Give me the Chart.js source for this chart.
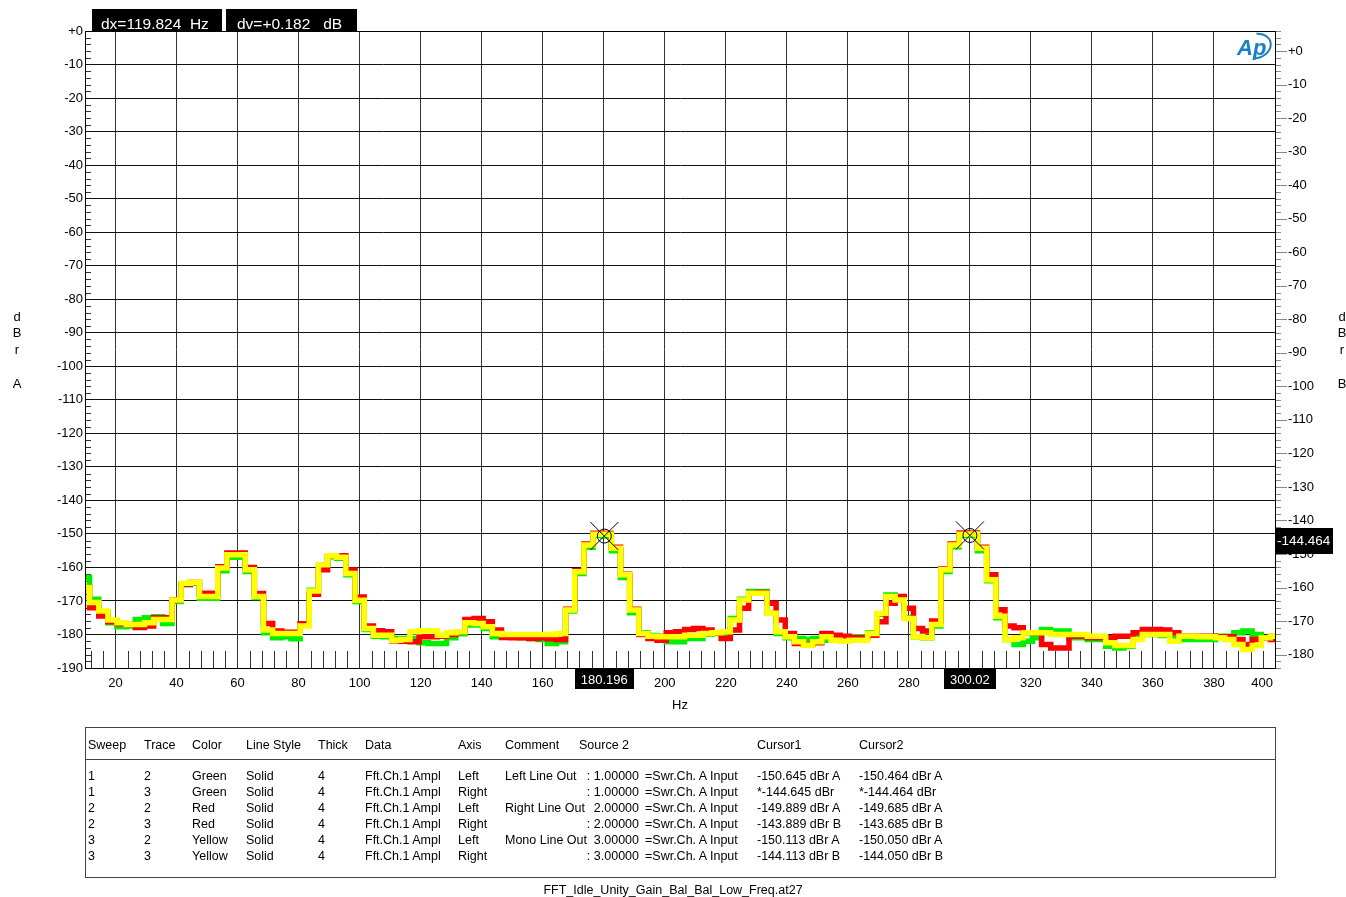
<!DOCTYPE html>
<html>
<head>
<meta charset="utf-8">
<script src="https://cdn.jsdelivr.net/npm/chart.js@4.4.1/dist/chart.umd.min.js"></script>
<style>
  body { margin: 0; background: #fff; }
  #wrap { position: relative; width: 1346px; height: 897px; overflow: hidden; font-family: "Liberation Sans", Arial, sans-serif; }
  #chart { position: absolute; left: 0; top: 0; }
  #legendBox { position: absolute; left: 85px; top: 727px; width: 1189px; height: 149px; border: 1px solid #444; }
  #legendRule { position: absolute; left: 85px; top: 759px; width: 1190px; height: 1px; background: #444; }
  .cell { position: absolute; font-size: 12.5px; line-height: 16px; color: #000; white-space: pre; }
  .right { text-align: right; }
  #footer { position: absolute; left: 0; width: 1346px; top: 882px; text-align: center; font-size: 12.5px; line-height: 16px; }
</style>
</head>
<body>
<div id="wrap">
  <canvas id="chart" width="1346" height="897"></canvas>
  <div id="legendBox"></div>
  <div id="legendRule"></div>
  <div id="legendCells"></div>
  <div id="footer">FFT_Idle_Unity_Gain_Bal_Bal_Low_Freq.at27</div>
</div>
<script>
// Datos del espectro (dBr A)
const freqHz = [
  10, 13, 16, 19, 22, 25, 28, 31, 34, 37,
  40, 43, 46, 49, 52, 55, 58, 61, 64, 67,
  70, 73, 76, 79, 82, 85, 88, 91, 94, 97,
  100, 103, 106, 109, 112, 115, 118, 121, 124, 127,
  130, 133, 136, 139, 142, 145, 148, 151, 154, 157,
  160, 163, 166, 169, 172, 175, 178, 181, 184, 187,
  190, 193, 196, 199, 202, 205, 208, 211, 214, 217,
  220, 223, 226, 229, 232, 235, 238, 241, 244, 247,
  250, 253, 256, 259, 262, 265, 268, 271, 274, 277,
  280, 283, 286, 289, 292, 295, 298, 301, 304, 307,
  310, 313, 316, 319, 322, 325, 328, 331, 334, 337,
  340, 343, 346, 349, 352, 355, 358, 361, 364, 367,
  370, 373, 376, 379, 382, 385, 388, 391, 394, 397,
  400
];

const yellowDb = [
  -166, -170.5, -173, -175.7, -176.5, -177, -177, -176.5, -175.5, -175.5,
  -169.7, -164.7, -164.5, -168.7, -168.7, -160.2, -156.2, -156.2, -160.7, -168.7,
  -178.7, -179.7, -179.7, -179.7, -177.5, -167, -159.2, -156.5, -157, -161.8,
  -169.8, -178.2, -180.2, -180.2, -181.7, -181.5, -179.2, -178.9, -178.9, -180.2,
  -179.5, -179.2, -176.5, -176.7, -177.7, -179.7, -180, -180, -180, -180,
  -180, -180, -179.7, -172.7, -161.3, -153.3, -150.1, -150.1, -154.3, -162.2,
  -172.7, -179.7, -180.5, -180.7, -180.7, -180.7, -180.2, -180.2, -179.7, -179.5,
  -179.2, -175.7, -169.7, -167.7, -167.7, -173.7, -179.2, -180.7, -182.2, -183.2,
  -182.2, -180.7, -181.7, -182, -181.7, -181.7, -179.7, -173.7, -168.7, -169.7,
  -175.2, -180.7, -180.9, -177, -160.7, -153.3, -150.1, -150.0, -154.3, -163.7,
  -174.6, -181.5, -181, -179.5, -179.5, -179.5, -180, -180, -180, -180,
  -180.5, -180.5, -182.5, -183.3, -183.3, -181.5, -180, -180, -180, -182,
  -180.5, -180.5, -180.7, -180.7, -181, -181.5, -183, -184.5, -183.3, -181,
  -180.5
];

const redDb = [
  -166, -172, -174.5, -176.2, -176.8, -177, -177.9, -177.5, -175, -175,
  -169.7, -165, -164.5, -167.7, -167.7, -159.8, -155.7, -155.7, -160, -167.8,
  -176.7, -179, -179.3, -179.3, -176.8, -168, -160.7, -156.5, -156.5, -160.8,
  -168.8, -177.5, -178.9, -179.2, -181.9, -182, -182.2, -180.7, -180.7, -180.5,
  -180, -179.2, -175.5, -175.2, -176.2, -178.7, -180.9, -181, -181, -181.2,
  -181, -181.3, -181.5, -172.5, -161, -153, -149.8, -149.9, -154, -162,
  -172.5, -180, -181.2, -181.7, -179.5, -179.2, -178.5, -178.2, -178.7, -179.5,
  -181.2, -178.7, -172.2, -167.7, -167.5, -170.7, -175.7, -179.7, -182.7, -183,
  -182.5, -179.7, -180.2, -180.5, -181, -181, -180.2, -176.2, -170.7, -168.7,
  -172.2, -178.2, -179, -176, -160.5, -153, -149.7, -149.7, -154, -162.2,
  -172.6, -177.5, -178, -179.5, -179.5, -183, -184, -184, -180.5, -180.5,
  -181, -181, -181, -180.5, -180.5, -179.5, -178.5, -178.5, -178.7, -179.5,
  -180.5, -180.5, -180.5, -180.5, -180.7, -180.7, -181.5, -183, -181.5, -181,
  -181.5
];

const greenDb = [
  -163, -169.5, -173.5, -176.5, -177.7, -177.5, -175.5, -175, -174.7, -176.7,
  -170.2, -165.2, -164.7, -169.2, -169.2, -161, -157, -157, -161.2, -169,
  -179.5, -181, -180.7, -181.3, -176.8, -166.8, -159.5, -156.8, -157.3, -162.2,
  -170.2, -178.5, -180.5, -180.7, -181.2, -181.2, -181.2, -182.5, -182.7, -182.7,
  -181, -179.8, -177.2, -177.2, -178.2, -180.7, -180.5, -180.8, -181, -181.2,
  -181.5, -182.7, -182.2, -173, -161.8, -154, -150.4, -150.6, -155, -163,
  -173.5, -179.5, -180.3, -180.5, -182.2, -182.2, -181.2, -181.2, -179.9, -179.7,
  -179.7, -175.2, -169.5, -167.2, -167.2, -173.7, -179.7, -181, -181.2, -181.5,
  -181.2, -181.7, -181.2, -181.5, -180.7, -180.7, -179.5, -174, -168.2, -169.2,
  -175, -180.7, -181, -177.5, -161.2, -153.8, -150.5, -150.4, -155, -164,
  -175, -181.5, -183, -182, -181, -178.5, -179, -179, -181, -181,
  -181.5, -181.5, -183.5, -184, -183.5, -181, -180, -180, -180.3, -181,
  -181.5, -181.5, -181.5, -181.5, -180.5, -180.5, -179.5, -179, -180, -181,
  -180.5
];

// Marcas de los ejes
const hzTicks = [20, 40, 60, 80, 100, 120, 140, 160, 180, 200, 220, 240, 260, 280, 300, 320, 340, 360, 380, 400];
const dbTicksA = [0, -10, -20, -30, -40, -50, -60, -70, -80, -90, -100, -110, -120, -130, -140, -150, -160, -170, -180, -190];
const dbTicksB = [0, -10, -20, -30, -40, -50, -60, -70, -80, -90, -100, -110, -120, -130, -140, -150, -160, -170, -180];

// Cursores
const cursorHz = [180.196, 300.02];
const cursorDb = [-150.645, -150.464];
const cursorHzLabels = ['180.196', '300.02'];
const cursorRightLabel = '-144.464';
const cursorRightDb = -144.464;

// Tabla de trazas
const legendHeader = ['Sweep', 'Trace', 'Color', 'Line Style', 'Thick', 'Data', 'Axis', 'Comment', 'Source 2', 'Cursor1', 'Cursor2'];
const sweepCol = ['1', '1', '2', '2', '3', '3'];
const traceCol = ['2', '3', '2', '3', '2', '3'];
const colorCol = ['Green', 'Green', 'Red', 'Red', 'Yellow', 'Yellow'];
const styleCol = ['Solid', 'Solid', 'Solid', 'Solid', 'Solid', 'Solid'];
const thickCol = ['4', '4', '4', '4', '4', '4'];
const dataCol = ['Fft.Ch.1 Ampl', 'Fft.Ch.1 Ampl', 'Fft.Ch.1 Ampl', 'Fft.Ch.1 Ampl', 'Fft.Ch.1 Ampl', 'Fft.Ch.1 Ampl'];
const axisCol = ['Left', 'Right', 'Left', 'Right', 'Left', 'Right'];
const commentCol = ['Left Line Out', '', 'Right Line Out', '', 'Mono Line Out', ''];
const sourceCol = [': 1.00000', ': 1.00000', '2.00000', ': 2.00000', '3.00000', ': 3.00000'];
const inputCol = ['=Swr.Ch. A Input', '=Swr.Ch. A Input', '=Swr.Ch. A Input', '=Swr.Ch. A Input', '=Swr.Ch. A Input', '=Swr.Ch. A Input'];
const cursor1Col = ['-150.645 dBr A', '*-144.645 dBr', '-149.889 dBr A', '-143.889 dBr B', '-150.113 dBr A', '-144.113 dBr B'];
const cursor2Col = ['-150.464 dBr A', '*-144.464 dBr', '-149.685 dBr A', '-143.685 dBr B', '-150.050 dBr A', '-144.050 dBr B'];

const FONT = '"Liberation Sans", Arial, sans-serif';

function buildLegend() {
    const host = document.getElementById('legendCells');
    const lefts = [88, 144, 192, 246, 318, 365, 458, 505];
    function put(text, x, yc, alignRight) {
        const d = document.createElement('div');
        d.className = 'cell' + (alignRight ? ' right' : '');
        d.textContent = text;
        d.style.top = (yc - 7) + 'px';
        if (alignRight) { d.style.left = (x - 200) + 'px'; d.style.width = '200px'; }
        else d.style.left = x + 'px';
        host.appendChild(d);
    }
    legendHeader.slice(0, 8).forEach((h, i) => put(h, lefts[i], 744));
    put(legendHeader[8], 579, 744);
    put(legendHeader[9], 757, 744);
    put(legendHeader[10], 859, 744);
    const cols = [sweepCol, traceCol, colorCol, styleCol, thickCol, dataCol, axisCol, commentCol];
    for (let r = 0; r < sweepCol.length; r++) {
        const yc = 775 + r * 16;
        cols.forEach((c, i) => put(c[r], lefts[i], yc));
        put(sourceCol[r], 639, yc, true);
        put(inputCol[r], 645, yc);
        put(cursor1Col[r], 757, yc);
        put(cursor2Col[r], 859, yc);
    }
}

const dbLabel = v => (v === 0 ? '+0' : String(v));

const apOverlay = {
    id: 'apOverlay',
    beforeDatasetsDraw(chart) {
        const { ctx, chartArea: a, scales } = chart;
        const x = scales.x, y = scales.y, y2 = scales.y2;
        ctx.save();
        ctx.lineWidth = 1;
        // marcas menores dentro del gráfico
        ctx.strokeStyle = '#333';
        ctx.beginPath();
        for (let v = -188; v < 0; v += 2) {
            if (v % 10 === 0) continue;
            const py = Math.round(y.getPixelForValue(v)) + 0.5;
            ctx.moveTo(a.left, py); ctx.lineTo(a.left + 6, py);
        }
        for (let v = 12; v < 400; v += 4) {
            if (v % 20 === 0) continue;
            const px = Math.round(x.getPixelForValue(v)) + 0.5;
            ctx.moveTo(px, a.bottom); ctx.lineTo(px, a.bottom - 17);
        }
        ctx.stroke();
        // marcas del eje derecho
        ctx.strokeStyle = '#888';
        ctx.beginPath();
        for (let v = -184; v <= 6; v += 2) {
            const py = Math.round(y2.getPixelForValue(v)) + 0.5;
            const len = v % 10 === 0 ? 12 : 6;
            ctx.moveTo(a.right, py); ctx.lineTo(a.right + len, py);
        }
        ctx.stroke();
        ctx.restore();
    },
    afterDraw(chart) {
        const { ctx, chartArea: a, scales } = chart;
        const x = scales.x, y = scales.y, y2 = scales.y2;
        ctx.save();
        // borde del gráfico
        ctx.strokeStyle = '#000';
        ctx.lineWidth = 1;
        ctx.strokeRect(Math.round(a.left) + 0.5, Math.round(a.top) + 0.5, Math.round(a.right - a.left), Math.round(a.bottom - a.top));

        // última etiqueta del eje X, desplazada a la izquierda como en el original
        ctx.fillStyle = '#000';
        ctx.font = '13px ' + FONT;
        ctx.textAlign = 'right';
        ctx.textBaseline = 'middle';
        ctx.fillText(String(hzTicks[hzTicks.length - 1]), a.right - 2, a.bottom + 15);

        // marcadores de cursor
        ctx.strokeStyle = '#000';
        cursorHz.forEach((hz, i) => {
            const px = x.getPixelForValue(hz), py = y.getPixelForValue(cursorDb[i]);
            ctx.beginPath();
            ctx.arc(px, py, 7, 0, Math.PI * 2);
            ctx.moveTo(px - 14, py - 14); ctx.lineTo(px + 14, py + 14);
            ctx.moveTo(px + 14, py - 14); ctx.lineTo(px - 14, py + 14);
            ctx.stroke();
        });

        // etiquetas de cursor en el eje X
        ctx.font = '13px ' + FONT;
        ctx.textAlign = 'center';
        ctx.textBaseline = 'middle';
        cursorHz.forEach((hz, i) => {
            const px = x.getPixelForValue(hz);
            const w = ctx.measureText(cursorHzLabels[i]).width + 12;
            ctx.fillStyle = '#000';
            ctx.fillRect(Math.round(px - w / 2), a.bottom + 1, Math.round(w), 20);
            ctx.fillStyle = '#fff';
            ctx.fillText(cursorHzLabels[i], px, a.bottom + 12);
        });

        // etiqueta del cursor en el eje derecho
        const ry = y2.getPixelForValue(cursorRightDb) + 6;
        ctx.fillStyle = '#000';
        ctx.fillRect(a.right, Math.round(ry - 13), 58, 26);
        ctx.fillStyle = '#fff';
        ctx.textAlign = 'left';
        ctx.font = '13.5px ' + FONT;
        ctx.fillText(cursorRightLabel, a.right + 2, ry);

        // cajas dx / dv
        ctx.fillStyle = '#000';
        ctx.fillRect(92, 9, 130, 22);
        ctx.fillRect(226, 9, 131, 22);
        ctx.fillStyle = '#fff';
        ctx.font = '15.5px ' + FONT;
        ctx.textBaseline = 'alphabetic';
        ctx.fillText('dx=119.824  Hz', 101, 29);
        ctx.fillText('dv=+0.182   dB', 237, 29);

        // títulos de ejes
        ctx.fillStyle = '#000';
        ctx.font = '13px ' + FONT;
        ctx.textAlign = 'center';
        ctx.textBaseline = 'middle';
        [['d', 317], ['B', 333], ['r', 350], ['A', 384]].forEach(([t, ty]) => ctx.fillText(t, 17, ty));
        [['d', 317], ['B', 333], ['r', 350], ['B', 384]].forEach(([t, ty]) => ctx.fillText(t, 1342, ty));
        ctx.fillText('Hz', (a.left + a.right) / 2, 705);

        // logo
        ctx.fillStyle = '#1a80c4';
        ctx.strokeStyle = '#1a80c4';
        ctx.font = 'italic bold 22px ' + FONT;
        ctx.textAlign = 'left';
        ctx.textBaseline = 'alphabetic';
        ctx.fillText('Ap', 1237, 55);
        ctx.lineWidth = 2;
        ctx.beginPath();
        ctx.ellipse(1256, 46, 15, 12, -0.3, -1.3, 1.9);
        ctx.stroke();
        ctx.restore();
    }
};

function renderChart() {
    const ctx = document.getElementById('chart').getContext('2d');
    const series = [
        { label: 'Yellow', data: yellowDb, color: '#ffff00' },
        { label: 'Red', data: redDb, color: '#ff0000' },
        { label: 'Green', data: greenDb, color: '#00ee00' }
    ];
    new Chart(ctx, {
        type: 'line',
        data: {
            datasets: series.map(s => ({
                label: s.label,
                data: freqHz.map((f, i) => ({ x: f, y: s.data[i] })),
                borderColor: s.color,
                borderWidth: 5.5,
                pointRadius: 0,
                stepped: 'middle',
                fill: false,
                yAxisID: 'y'
            }))
        },
        options: {
            responsive: false,
            animation: false,
            devicePixelRatio: 1,
            layout: { padding: { top: 31, bottom: 189, left: 0, right: 0 } },
            plugins: { legend: { display: false }, tooltip: { enabled: false } },
            scales: {
                x: {
                    type: 'linear', min: 10, max: 400,
                    afterBuildTicks: s => { s.ticks = hzTicks.map(v => ({ value: v })); },
                    afterFit: s => { s.height = 40; },
                    grid: { color: '#333', lineWidth: 1, drawTicks: false },
                    border: { display: true, color: '#000' },
                    ticks: {
                        color: '#000', font: { family: FONT, size: 13 }, padding: 8, maxRotation: 0, autoSkip: false,
                        callback: v => (v === hzTicks[hzTicks.length - 1] ? '' : String(v))
                    }
                },
                y: {
                    position: 'left', min: -190, max: 0,
                    afterBuildTicks: s => { s.ticks = dbTicksA.map(v => ({ value: v })); },
                    afterFit: s => { s.width = 85; },
                    grid: { color: '#111', lineWidth: 1, drawTicks: false },
                    border: { display: true, color: '#000' },
                    ticks: { color: '#000', font: { family: FONT, size: 13 }, padding: 2, callback: dbLabel }
                },
                y2: {
                    position: 'right', min: -184, max: 6,
                    afterBuildTicks: s => { s.ticks = dbTicksB.map(v => ({ value: v })); },
                    afterFit: s => { s.width = 71; },
                    grid: { drawOnChartArea: false, drawTicks: false },
                    border: { display: true, color: '#000' },
                    ticks: { color: '#000', font: { family: FONT, size: 13 }, padding: 13, callback: dbLabel }
                }
            }
        },
        plugins: [apOverlay]
    });
}

buildLegend();
renderChart();
</script>
</body>
</html>
